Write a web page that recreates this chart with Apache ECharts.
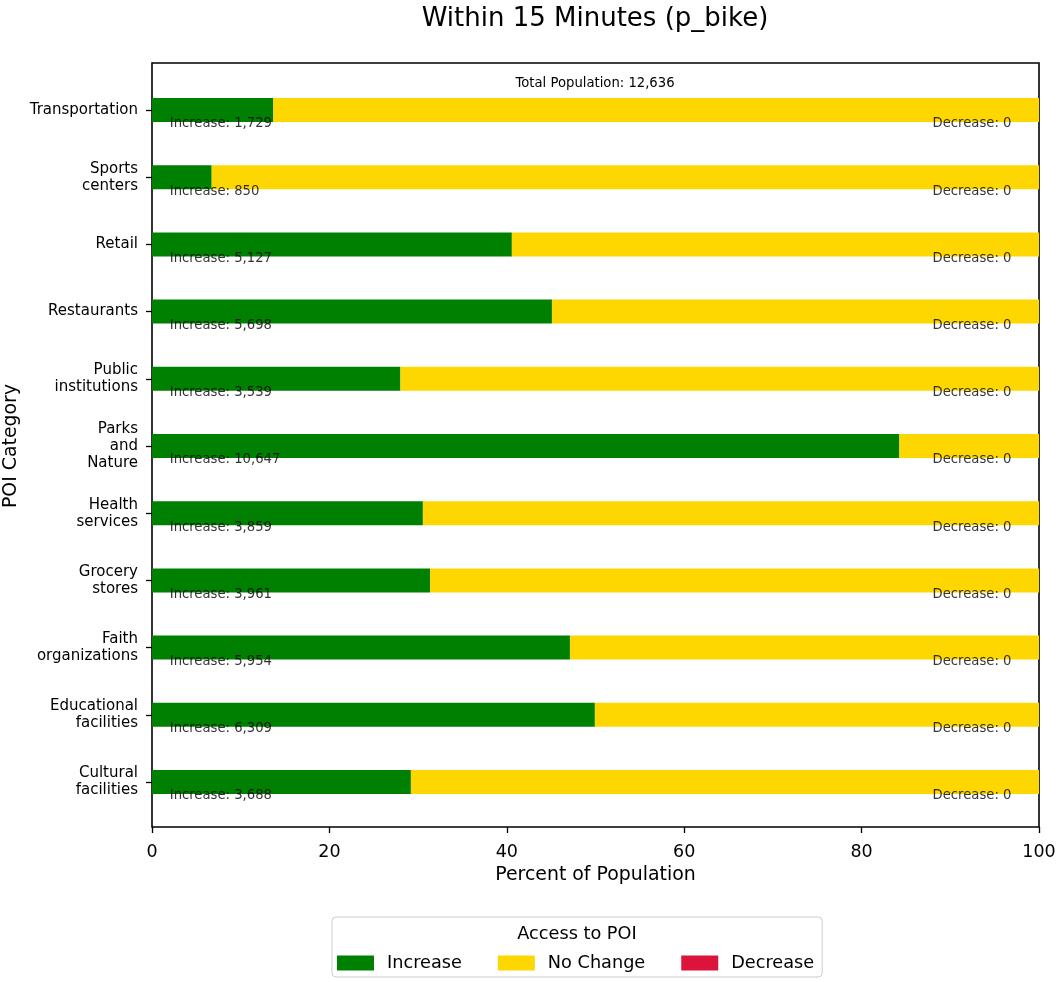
<!DOCTYPE html>
<html>
<head>
<meta charset="utf-8">
<script src="https://cdn.jsdelivr.net/npm/echarts@6/dist/echarts.min.js"></script>
<style>
  html, body { margin: 0; padding: 0; background: #fff; }
  #chart { width: 1060px; height: 982px; }
</style>
</head>
<body>
<div id="chart"></div>
<script>
// categories, bottom to top
var categories = ['Cultural\nfacilities', 'Educational\nfacilities', 'Faith\norganizations', 'Grocery\nstores',
  'Health\nservices', 'Parks\nand\nNature', 'Public\ninstitutions', 'Restaurants', 'Retail',
  'Sports\ncenters', 'Transportation'];
var increaseCounts = [3688, 6309, 5954, 3961, 3859, 10647, 3539, 5698, 5127, 850, 1729];
var decreaseCounts = [0, 0, 0, 0, 0, 0, 0, 0, 0, 0, 0];
var increasePct = [29.19, 49.93, 47.12, 31.35, 30.54, 84.26, 28.01, 45.09, 40.57, 6.73, 13.68];
var noChangePct = [70.81, 50.07, 52.88, 68.65, 69.46, 15.74, 71.99, 54.91, 59.43, 93.27, 86.32];
var decreasePct = [0, 0, 0, 0, 0, 0, 0, 0, 0, 0, 0];
var xTicks = [0, 20, 40, 60, 80, 100];
var totalPopulation = 12636;

var FONT = 'DejaVu Sans';
var myChart = echarts.init(document.getElementById('chart'));

function fmt(n) { return n.toLocaleString('en-US'); }

var option = {
  animation: false,
  textStyle: { fontFamily: FONT },
  title: [
    {
      text: 'Within 15 Minutes (p_bike)',
      left: 595, top: 6, padding: 0, textAlign: 'center',
      textStyle: { fontFamily: FONT, fontSize: 26, fontWeight: 'normal', color: '#000' }
    },
    {
      text: 'Total Population: ' + fmt(totalPopulation),
      left: 595, top: 77, padding: 0, textAlign: 'center',
      textStyle: { fontFamily: FONT, fontSize: 13.2, fontWeight: 'normal', color: '#000' }
    },
    {
      text: 'Access to POI',
      left: 577, top: 925, padding: 0, textAlign: 'center',
      textStyle: { fontFamily: FONT, fontSize: 17.7, fontWeight: 'normal', color: '#000' }
    }
  ],
  legend: {
    data: ['Increase', 'No Change', 'Decrease'],
    left: 332, top: 917,
    padding: [37, 8, 5, 5],
    itemGap: 36,
    itemWidth: 37, itemHeight: 15,
    icon: 'rect',
    borderColor: '#cccccc', borderWidth: 1, borderRadius: 4,
    textStyle: { fontFamily: FONT, fontSize: 17.7, color: '#000', padding: [0, 0, 0, 8] }
  },
  grid: [
    { left: 152, right: 21, top: 76.4, height: 739.2, show: false, containLabel: false, outerBoundsMode: 'none' },
    { left: 152, right: 21, top: 63, height: 764, show: true, borderColor: '#000', borderWidth: 1.6,
      backgroundColor: 'transparent', containLabel: false, outerBoundsMode: 'none' }
  ],
  xAxis: [
    { gridIndex: 0, type: 'value', min: 0, max: 100, show: false },
    {
      gridIndex: 1, type: 'value', min: 0, max: 100, interval: 20,
      name: 'Percent of Population', nameLocation: 'middle', nameGap: 39,
      nameTextStyle: { fontFamily: FONT, fontSize: 18.9, color: '#000' },
      axisLine: { show: false },
      axisTick: { show: true, length: 6, lineStyle: { color: '#000', width: 1.3 } },
      axisLabel: {
        fontFamily: FONT, fontSize: 17.5, color: '#000', margin: 16,
        formatter: function (v) { return xTicks.indexOf(v) >= 0 ? String(v) : ''; }
      },
      splitLine: { show: false }
    }
  ],
  yAxis: [
    {
      gridIndex: 0, type: 'category', data: categories,
      name: 'POI Category', nameLocation: 'middle', nameGap: 131, nameMoveOverlap: false,
      nameTextStyle: { fontFamily: FONT, fontSize: 18.9, color: '#000' },
      axisLine: { show: false },
      axisTick: { show: true, alignWithLabel: true, length: 6, lineStyle: { color: '#000', width: 1.3 } },
      axisLabel: { fontFamily: FONT, fontSize: 15, color: '#000', margin: 14, lineHeight: 17, align: 'right' }
    },
    { gridIndex: 1, type: 'value', min: 0, max: 1, show: false }
  ],
  series: [
    {
      name: 'Increase', type: 'bar', stack: 'total', barWidth: 24,
      xAxisIndex: 0, yAxisIndex: 0,
      itemStyle: { color: '#008000' },
      data: increasePct
    },
    {
      name: 'No Change', type: 'bar', stack: 'total', barWidth: 24,
      xAxisIndex: 0, yAxisIndex: 0,
      itemStyle: { color: '#FFD700' },
      data: noChangePct
    },
    {
      name: 'Decrease', type: 'bar', stack: 'total', barWidth: 24,
      xAxisIndex: 0, yAxisIndex: 0,
      itemStyle: { color: '#DC143C' },
      data: decreasePct
    },
    {
      // increase count labels
      type: 'scatter', xAxisIndex: 0, yAxisIndex: 0, symbolSize: 0, z: 5,
      data: increaseCounts.map(function (c, i) { return [2, i, c]; }),
      label: {
        show: true, position: 'right', distance: 0, offset: [0, 14],
        fontFamily: FONT, fontSize: 13.2, color: '#000',
        formatter: function (p) { return 'Increase: ' + fmt(p.value[2]); }
      }
    },
    {
      // decrease count labels
      type: 'scatter', xAxisIndex: 0, yAxisIndex: 0, symbolSize: 0, z: 5,
      data: decreaseCounts.map(function (c, i) { return [88, i, c]; }),
      label: {
        show: true, position: 'right', distance: 0, offset: [0, 14],
        fontFamily: FONT, fontSize: 13.2, color: '#000',
        formatter: function (p) { return 'Decrease: ' + fmt(p.value[2]); }
      }
    }
  ]
};

myChart.setOption(option);
window.addEventListener('resize', function () {
  myChart.resize();
});
</script>
</body>
</html>
